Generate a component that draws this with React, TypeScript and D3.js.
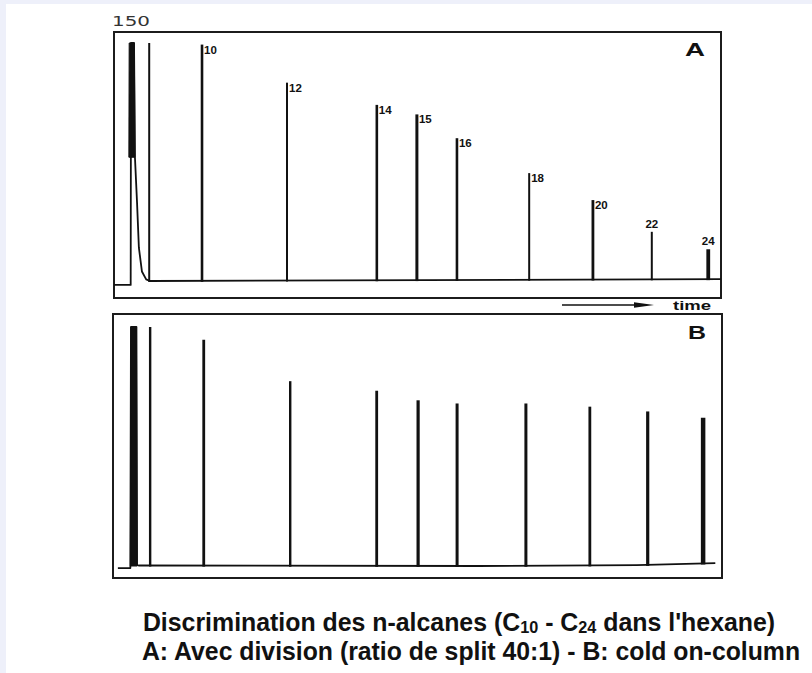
import React, { useLayoutEffect, useRef, useState } from "react";
import * as d3 from "d3";

// ---------------- data ----------------
// peak labels (n-alkane carbon number; first peak is unlabeled)
const peakLabels = ["", "10", "12", "14", "15", "16", "18", "20", "22", "24"];

// Panel A: split injection (40:1) — retention (0-100 time units) and response (0-150)
const retentionA = [5.8, 14.5, 28.5, 43.3, 49.9, 56.5, 68.4, 78.9, 88.6, 97.9];
const responseA = [150, 149, 125, 111, 105, 90, 68, 51, 31, 20];

// Panel B: cold on-column
const retentionB = [6.1, 14.9, 29.1, 43.3, 50.1, 56.5, 67.8, 78.3, 87.8, 96.9];
const responseB = [150, 142, 116, 110, 104, 102, 102, 100, 97, 93];

// solvent front (hexane) and baseline
const solventTimesA = [0, 2.75, 2.8, 3.3, 3.45, 3.8, 4.1, 4.6, 5.3, 5.9];
const solventLevelsA = [-2.5, -2.5, 150, 150, 78, 49, 21, 6, 1, 0];
const solventCoreTimesA = [2.45, 2.5, 3.35, 3.45];
const solventCoreLevelsA = [78, 150, 150, 78];
const baselineTimesA = [5.9, 100];
const baselineLevelsA = [0, 1.2];

const solventTimesB = [0.8, 2.85, 2.95, 3.85, 3.95, 4.3];
const solventLevelsB = [-1.3, -1.3, 150, 150, 0.5, 0.3];
const solventCoreTimesB = [2.85, 2.95, 3.85, 3.95];
const solventCoreLevelsB = [0, 150, 150, 0];
const baselineTimesB = [4.3, 60, 86, 98.9];
const baselineLevelsB = [0.3, 0, 0.5, 1.8];

const fullScaleLabel = "150";
const timeLabel = "time";
const panelNames = ["A", "B"];
const captionLine2 = "A: Avec division (ratio de split 40:1) - B: cold on-column";

// ---------------- layout / style ----------------
const W = 812;
const H = 673;
const INK = "#111";
const FRAME = "#1c1c1c";
const CAPTION_FONT = "Liberation Sans, Arial, sans-serif";

type Panel = {
  name: string;
  box: { x0: number; x1: number; y0: number; y1: number };
  base: number;
  top: number;
  retention: number[];
  response: number[];
  solventT: number[];
  solventL: number[];
  coreT: number[];
  coreL: number[];
  baseT: number[];
  baseL: number[];
  peakWidths: number[];
};

const panels: Panel[] = [
  {
    name: panelNames[0],
    box: { x0: 114, x1: 721, y0: 32, y1: 298 },
    base: 281,
    top: 43,
    retention: retentionA,
    response: responseA,
    solventT: solventTimesA,
    solventL: solventLevelsA,
    coreT: solventCoreTimesA,
    coreL: solventCoreLevelsA,
    baseT: baselineTimesA,
    baseL: baselineLevelsA,
    peakWidths: [2, 2.6, 2, 2.6, 3, 2.6, 2, 2.8, 2, 3.8],
  },
  {
    name: panelNames[1],
    box: { x0: 113, x1: 722, y0: 314, y1: 578 },
    base: 566,
    top: 327,
    retention: retentionB,
    response: responseB,
    solventT: solventTimesB,
    solventL: solventLevelsB,
    coreT: solventCoreTimesB,
    coreL: solventCoreLevelsB,
    baseT: baselineTimesB,
    baseL: baselineLevelsB,
    peakWidths: [2.4, 2.8, 2.4, 2.8, 3.2, 3, 3, 2.8, 3.2, 4.5],
  },
];

const aboveLabels = new Set(["22", "24"]);

function PanelView({ p, showLabels }: { p: Panel; showLabels: boolean }) {
  const x = d3.scaleLinear().domain([0, 100]).range([p.box.x0, p.box.x1]);
  const y = d3.scaleLinear().domain([0, 150]).range([p.base, p.top]);
  const baseAt = d3.scaleLinear().domain(p.baseT).range(p.baseL).clamp(true);

  const tracePts: [number, number][] = [
    ...p.solventT.map((t, i) => [t, p.solventL[i]] as [number, number]),
    ...p.baseT.slice(1).map((t, i) => [t, p.baseL[i + 1]] as [number, number]),
  ];
  const line = d3
    .line<[number, number]>()
    .x((d) => x(d[0]))
    .y((d) => y(d[1]));
  const corePts: [number, number][] = p.coreT.map((t, i) => [t, p.coreL[i]]);

  return (
    <g>
      <rect
        x={p.box.x0}
        y={p.box.y0}
        width={p.box.x1 - p.box.x0}
        height={p.box.y1 - p.box.y0}
        fill="#fff"
        stroke={FRAME}
        strokeWidth={2}
      />
      <path d={line(corePts)! + "Z"} fill={INK} stroke={INK} strokeWidth={1} />
      <path d={line(tracePts)!} fill="none" stroke={INK} strokeWidth={1.8} strokeLinejoin="round" />
      {p.retention.map((t, i) => (
        <line
          key={i}
          x1={x(t)}
          x2={x(t)}
          y1={y(baseAt(t)) + 1}
          y2={y(p.response[i])}
          stroke={INK}
          strokeWidth={p.peakWidths[i]}
        />
      ))}
      {showLabels &&
        p.retention.map((t, i) => {
          const lab = peakLabels[i];
          if (!lab) return null;
          const above = aboveLabels.has(lab);
          return (
            <text
              key={"l" + i}
              x={above ? x(t) : x(t) + 2}
              y={above ? y(p.response[i]) - 4 : y(p.response[i]) + 9}
              textAnchor={above ? "middle" : "start"}
              fontFamily="Liberation Sans, Arial, sans-serif"
              fontWeight="bold"
              fontSize={11.5}
              fill={INK}
            >
              {lab}
            </text>
          );
        })}
      <text
        x={p.box.x1 - 16}
        y={p.box.y0 + (p.name === "A" ? 24 : 25)}
        textAnchor="end"
        fontFamily="Liberation Sans, Arial, sans-serif"
        fontWeight="bold"
        fontSize={19}
        fill={INK}
        textLength={p.name === "A" ? 20 : 18}
        lengthAdjust="spacingAndGlyphs"
      >
        {p.name}
      </text>
    </g>
  );
}

export default function App() {
  const cap1 = useRef<SVGTextElement>(null);
  const cap2 = useRef<SVGTextElement>(null);
  const [sx, setSx] = useState<[number, number]>([0.72, 0.72]);

  useLayoutEffect(() => {
    const w1 = cap1.current ? cap1.current.getBBox().width : 0;
    const w2 = cap2.current ? cap2.current.getBBox().width : 0;
    if (w1 > 0 && w2 > 0) setSx([632 / w1, 658 / w2]);
  }, []);

  return (
    <svg
      width={W}
      height={H}
      viewBox={`0 0 ${W} ${H}`}
      style={{ position: "absolute", left: 0, top: 0, display: "block" }}
    >
      <rect x={0} y={0} width={W} height={H} fill="#eef0fa" />
      <rect x={6} y={4} width={W - 6} height={H - 4} fill="#fff" />

      <text
        x={112}
        y={26}
        fontFamily="DejaVu Sans, sans-serif"
        fontSize={14}
        fill="#333"
        textLength={38}
        lengthAdjust="spacingAndGlyphs"
      >
        {fullScaleLabel}
      </text>

      <PanelView p={panels[0]} showLabels={true} />
      <PanelView p={panels[1]} showLabels={false} />

      {/* time arrow */}
      <line x1={562} x2={640} y1={305} y2={305} stroke={INK} strokeWidth={1.4} />
      <polygon points="634,302.3 654,305 634,307.7" fill={INK} />
      <text
        x={673}
        y={310}
        fontFamily="Liberation Sans, Arial, sans-serif"
        fontWeight="bold"
        fontSize={13}
        fill={INK}
        textLength={38}
        lengthAdjust="spacingAndGlyphs"
      >
        {timeLabel}
      </text>

      {/* caption */}
      <g transform={`translate(459,631) scale(${sx[0]},1)`}>
        <text
          ref={cap1}
          x={0}
          y={0}
          textAnchor="middle"
          fontFamily={CAPTION_FONT}
          fontWeight="bold"
          fontSize={26}
          fill={INK}
        >
          Discrimination des n-alcanes (C
          <tspan fontSize={17} baselineShift="-14%">10</tspan>
          <tspan> - C</tspan>
          <tspan fontSize={17} baselineShift="-14%">24</tspan>
          <tspan> dans l'hexane)</tspan>
        </text>
      </g>
      <g transform={`translate(471,660) scale(${sx[1]},1)`}>
        <text
          ref={cap2}
          x={0}
          y={0}
          textAnchor="middle"
          fontFamily={CAPTION_FONT}
          fontWeight="bold"
          fontSize={25}
          fill={INK}
        >
          {captionLine2}
        </text>
      </g>
    </svg>
  );
}
